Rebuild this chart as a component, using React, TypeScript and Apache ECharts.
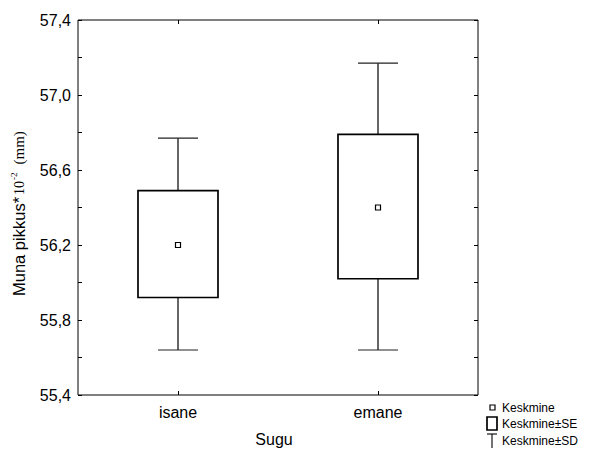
import React, { useEffect, useRef } from "react";
import * as echarts from "echarts";

const categories = ["isane", "emane"];
const means = [56.2, 56.4];
const seLow = [55.92, 56.02];
const seHigh = [56.49, 56.79];
const sdLow = [55.64, 55.64];
const sdHigh = [56.77, 57.17];

const yMin = 55.4;
const yMax = 57.4;
const yStep = 0.2;
const labelStep = 0.4;

const legendLabels = ["Keskmine", "Keskmine±SE", "Keskmine±SD"];
const xTitle = "Sugu";

const SANS = "Arial, 'Liberation Sans', Helvetica, sans-serif";
const SERIF = "'Times New Roman', 'Liberation Serif', serif";

export default function App() {
  const ref = useRef<HTMLDivElement>(null);

  useEffect(() => {
    if (!ref.current) return;
    const chart = echarts.init(ref.current, undefined, { renderer: "svg" });

    const data = categories.map((_, i) => [i, means[i], seLow[i], seHigh[i], sdLow[i], sdHigh[i]]);

    const fmt = (v: number) => {
      const k = Math.round((v - yMin) / yStep);
      if (k % Math.round(labelStep / yStep) !== 0) return "";
      return v.toFixed(1).replace(".", ",");
    };

    const tickStyle = { show: true, inside: true, length: 4, lineStyle: { color: "#000", width: 1 } };

    const option: any = {
      animation: false,
      backgroundColor: "#fff",
      grid: {
        left: 78,
        top: 20,
        width: 400,
        height: 375,
        show: true,
        borderColor: "#000",
        borderWidth: 1,
        backgroundColor: "transparent",
        containLabel: false,
        outerBoundsMode: "none",
      },
      xAxis: [
        {
          type: "category",
          data: categories,
          position: "bottom",
          boundaryGap: true,
          axisLine: { show: false },
          axisTick: { ...tickStyle, alignWithLabel: true },
          axisLabel: { color: "#000", fontSize: 16, fontFamily: SANS, margin: 9 },
          splitLine: { show: false },
          name: xTitle,
          nameLocation: "middle",
          nameGap: 36,
          nameTextStyle: { color: "#000", fontSize: 16, fontFamily: SANS, padding: [0, 8, 0, 0] },
        },
        {
          type: "category",
          data: categories,
          position: "top",
          boundaryGap: true,
          axisLine: { show: false },
          axisTick: { ...tickStyle, alignWithLabel: true },
          axisLabel: { show: false },
          splitLine: { show: false },
        },
      ],
      yAxis: [
        {
          type: "value",
          min: yMin,
          max: yMax,
          interval: yStep,
          position: "left",
          axisLine: { show: false },
          axisTick: tickStyle,
          axisLabel: { color: "#000", fontSize: 16, fontFamily: SANS, margin: 7, formatter: fmt, showMinLabel: true, showMaxLabel: true },
          splitLine: { show: false },
        },
        {
          type: "value",
          min: yMin,
          max: yMax,
          interval: yStep,
          position: "right",
          axisLine: { show: false },
          axisTick: tickStyle,
          axisLabel: { show: false },
          splitLine: { show: false },
        },
      ],
      series: [
        {
          type: "custom",
          xAxisIndex: 0,
          yAxisIndex: 0,
          data,
          encode: { x: 0, y: [1, 2, 3, 4, 5] },
          renderItem: (params: any, api: any) => {
            const i = api.value(0);
            const m = api.coord([i, api.value(1)]);
            const sL = api.coord([i, api.value(2)]);
            const sH = api.coord([i, api.value(3)]);
            const dL = api.coord([i, api.value(4)]);
            const dH = api.coord([i, api.value(5)]);
            const band = api.size([1, 0])[0];
            const boxW = band * 0.4;
            const capW = band * 0.2;
            const cx = m[0];
            const lineStyle = { stroke: "#000", lineWidth: 1.2, fill: null };
            return {
              type: "group",
              children: [
                { type: "line", shape: { x1: cx, y1: sH[1], x2: cx, y2: dH[1] }, style: lineStyle },
                { type: "line", shape: { x1: cx, y1: sL[1], x2: cx, y2: dL[1] }, style: lineStyle },
                { type: "line", shape: { x1: cx - capW / 2, y1: dH[1], x2: cx + capW / 2, y2: dH[1] }, style: { stroke: "#222", lineWidth: 1.1 } },
                { type: "line", shape: { x1: cx - capW / 2, y1: dL[1], x2: cx + capW / 2, y2: dL[1] }, style: { stroke: "#222", lineWidth: 1.1 } },
                {
                  type: "rect",
                  shape: { x: cx - boxW / 2, y: sH[1], width: boxW, height: sL[1] - sH[1] },
                  style: { stroke: "#000", lineWidth: 1.7, fill: "#fff" },
                },
                {
                  type: "rect",
                  shape: { x: cx - 2.5, y: m[1] - 2.5, width: 5, height: 5 },
                  style: { stroke: "#000", lineWidth: 1.2, fill: "#fff" },
                },
              ],
            };
          },
        },
      ],
      graphic: [
        {
          type: "text",
          x: 18,
          y: 296,
          rotation: Math.PI / 2,
          style: {
            text: "{a|Muna pikkus*}{b|10}{c|-2}{d|(mm)}",
            align: "left",
            verticalAlign: "middle",
            fill: "#000",
            rich: {
              a: { fontSize: 16.5, fontFamily: SANS, fill: "#000", verticalAlign: "bottom", lineHeight: 19 },
              b: { fontSize: 14, fontFamily: SERIF, fill: "#000", verticalAlign: "bottom", padding: [0, 1, 1, 2] },
              c: { fontSize: 9, fontFamily: SERIF, fill: "#000", verticalAlign: "top", padding: [1, 0, 0, 0] },
              d: { fontSize: 15, fontFamily: SERIF, fill: "#000", verticalAlign: "bottom", padding: [0, 0, 1, 8] },
            },
          },
        },
        // legend
        { type: "rect", shape: { x: 490, y: 405, width: 5, height: 5 }, style: { stroke: "#000", lineWidth: 1.2, fill: "#fff" } },
        { type: "text", x: 502, y: 407.5, style: { text: legendLabels[0], fontSize: 12, fontFamily: SANS, fill: "#000", verticalAlign: "middle" } },
        { type: "rect", shape: { x: 487, y: 417, width: 10, height: 13 }, style: { stroke: "#000", lineWidth: 1.7, fill: "#fff" } },
        { type: "text", x: 502, y: 423.5, style: { text: legendLabels[1], fontSize: 12, fontFamily: SANS, fill: "#000", verticalAlign: "middle" } },
        { type: "line", shape: { x1: 487, y1: 434, x2: 497, y2: 434 }, style: { stroke: "#000", lineWidth: 1.1 } },
        { type: "line", shape: { x1: 492, y1: 434, x2: 492, y2: 448 }, style: { stroke: "#000", lineWidth: 1.1 } },
        { type: "text", x: 502, y: 441, style: { text: legendLabels[2], fontSize: 12, fontFamily: SANS, fill: "#000", verticalAlign: "middle" } },
      ],
    };

    chart.setOption(option);
    return () => chart.dispose();
  }, []);

  return (
    <div
      ref={ref}
      style={{ position: "fixed", left: 0, top: 0, width: 594, height: 450, background: "#fff" }}
    />
  );
}
